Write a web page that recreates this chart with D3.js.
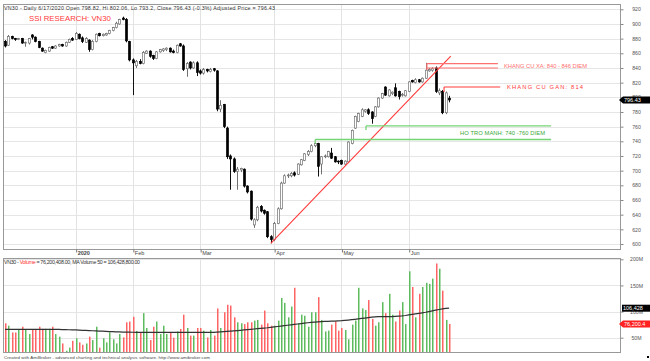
<!DOCTYPE html>
<html><head><meta charset="utf-8">
<script src="https://cdn.jsdelivr.net/npm/d3@7"></script>
<style>body{margin:0;background:#fff}svg{display:block}text{font-family:"Liberation Sans",Arial,sans-serif}</style>
</head><body><svg id="c" width="650" height="361"></svg>
<script>
const dates = [
"2019-12-03","2019-12-04","2019-12-05","2019-12-06","2019-12-09","2019-12-10","2019-12-11","2019-12-12","2019-12-13","2019-12-16","2019-12-17","2019-12-18","2019-12-19","2019-12-20","2019-12-23","2019-12-24","2019-12-25","2019-12-26","2019-12-27","2019-12-30","2019-12-31",
"2020-01-02","2020-01-03","2020-01-06","2020-01-07","2020-01-08","2020-01-09","2020-01-10","2020-01-13","2020-01-14","2020-01-15","2020-01-16","2020-01-17","2020-01-20","2020-01-21","2020-01-22","2020-01-30","2020-01-31",
"2020-02-03","2020-02-04","2020-02-05","2020-02-06","2020-02-07","2020-02-10","2020-02-11","2020-02-12","2020-02-13","2020-02-14","2020-02-17","2020-02-18","2020-02-19","2020-02-20","2020-02-21","2020-02-24","2020-02-25","2020-02-26","2020-02-27","2020-02-28",
"2020-03-02","2020-03-03","2020-03-04","2020-03-05","2020-03-06","2020-03-09","2020-03-10","2020-03-11","2020-03-12","2020-03-13","2020-03-16","2020-03-17","2020-03-18","2020-03-19","2020-03-20","2020-03-23","2020-03-24","2020-03-25","2020-03-26","2020-03-27","2020-03-30","2020-03-31",
"2020-04-01","2020-04-03","2020-04-06","2020-04-07","2020-04-08","2020-04-09","2020-04-10","2020-04-13","2020-04-14","2020-04-15","2020-04-16","2020-04-17","2020-04-20","2020-04-21","2020-04-22","2020-04-23","2020-04-24","2020-04-27","2020-04-28","2020-04-29",
"2020-05-04","2020-05-05","2020-05-06","2020-05-07","2020-05-08","2020-05-11","2020-05-12","2020-05-13","2020-05-14","2020-05-15","2020-05-18","2020-05-19","2020-05-20","2020-05-21","2020-05-22","2020-05-25","2020-05-26","2020-05-27","2020-05-28","2020-05-29",
"2020-06-01","2020-06-02","2020-06-03","2020-06-04","2020-06-05","2020-06-08","2020-06-09","2020-06-10","2020-06-11","2020-06-12","2020-06-15","2020-06-16","2020-06-17"];

const open = [876,871,883,880,879,880,874,874,885,882, 876,867,861,863,869,867,870,872,870,875,
880,879,886,881,875,878,865,876,887,884, 885,887,891,895,900,908,906,876,851,843,
849,846,860,863,857,853,862,864,865,867, 863,861,873,870,839,848,840,847,836,833,
838,835,839,836,784,790,758,720,716,699, 701,702,679,672,626,633,651,646,644,610,
606,628,648,683,693,693,697,695,708,714, 722,726,734,737,709,719,719,724,719,713,
714,709,712,737,758,767,774,781,783,780, 774,787,799,814,802,805,813,808,803,802,
808,823,820,824,821,826,836,837,840,806, 808,779,798.82];
const high = [878,885,884,881,881,881,876,881,886,883, 877,868,865,869,870,871,873,873,876,880,
882,889,887,883,882,879,878,887,888,887, 888,892,896,903,907,910,908,877,853,851,
852,863,864,864,858,863,866,867,868,868, 865,872,874,872,848,849,849,849,838,840,
839,840,840,837,796,791,760,722,718,705, 704,703,680,673,635,652,653,647,645,612,
630,650,685,695,696,698,699,710,716,724, 728,736,738,738,720,722,727,731,720,714,
715,714,740,756,775,779,785,784,785,781, 788,800,806,815,811,808,819,809,806,810,
822,824,826,825,827,847,840,841,842,812, 810,808,802.06];
const low = [868,870,879,877,878,873,869,872,879,875, 867,862,860,862,866,866,869,869,869,874,
877,878,879,874,874,862,864,875,883,883, 884,886,890,894,899,905,875,849,803,840,
845,845,859,854,851,852,861,862,863,861, 860,860,869,836,828,838,839,829,831,831,
834,834,835,781,780,758,716,674,697,674, 698,677,669,632,622,631,643,640,608,601,
604,627,647,682,690,691,692,694,707,713, 720,725,732,692,695,717,718,716,711,709,
708,708,711,736,757,766,773,779,776,764, 773,786,798,802,801,803,801,797,801,801,
807,820,819,820,820,825,835,835,806,803, 777,777,793.2];
const close = [870,883,880,879,880,874,875,880,882,876, 868,863,864,868,867,870,872,870,875,879,
878,887,880,876,880,865,876,886,884,886, 887,891,895,901,906,906,877,851,847,849,
846,861,863,856,853,862,865,866,867,862, 861,871,870,838,846,840,847,834,833,838,
836,838,837,784,789,760,719,716,699,702, 703,679,671,634,633,650,645,642,610,606,
628,648,683,693,694,696,694,709,715,723, 726,734,737,706,719,720,726,717,712,712,
709,713,739,755,774,778,783,783,778,771, 787,799,805,803,810,807,802,801,804,809,
821,821,824,821,826,837,838,839,808,809, 779,806,796.43];
// volume in millions
const volume = [77.6,73,60,60,66.7,71,65,57,66,66.7, 71,67,67,67,71,57,52,39,25,31,
44,49,41,36.5,39,52,45.5,71,31,49, 41,60,47,39,57,50.6,79.5,81,90,63,
60,97,68.6,45.5,71,81,57,73,57,60, 50,62,66.7,94,68.6,54,54,68.6,68.6,63.5,
50.6,64.7,54,106,68.6,98.7,113,111.5,89,79.5, 77.6,76,79.5,79.5,82.7,84,75,102,77.6,73,
73,82.7,126,116.7,89,109.6,145.5,77.6,94,92, 71,98.7,98.7,127.6,84,62,63.5,75,81,63.5,
68.6,64.7,47,75,82.7,145.5,106,103,122,86, 73,79.5,118,97,134,94,81,102,118,76,
177,147,89,134,147,155,153,163,192,182, 140,84,76.2004];
const ma50 = [66,66,66,66,66,66,66,66,66,66, 66,66,66,66,66,66,65.8,65.6,65.4,65.2,
65,64.8,64.5,64.2,63.9,63.6,63.3,63,62.7,62.4, 62.1,61.8,61.5,61.2,61,60.8,60.6,60.5,60.4,60.3,
60.2,60.2,60.1,60,60,60,60,60,60,60, 60,60,60,60,60,60,60,60,60,60,
60,60,60.2,60.6,61,61.5,62,62.5,63,63.6, 64.2,64.8,65.4,66,66.6,67.2,67.8,68.4,69,69.8,
70.6,71.4,72.2,73,73.8,74.6,75.4,76.2,77,77.8, 78.6,79.2,79.8,80.4,80.8,81.2,81.4,81.6,81.8,82.2,
82.6,83.2,83.8,84.5,85.2,86,86.8,87.6,88.4,89.2, 90,90.2,90.4,90.4,90.4,90.5,90.8,91.2,91.7,92.5,
93.5,94.5,95.5,96.6,97.6,98.7,100,101.3,102.7,104, 105.2,106,106.43];

const priceTicks = [600,620,640,660,680,700,720,740,760,780,800,820,840,860,880,900,920];
const volumeTicks = [50,100,150,200];
const volumeTickLabels = ["50M","100M","150M","200M"];
const monthLabels = ["2020","Feb","Mar","Apr","May","Jun"];

// annotations (index positions along the bar axis, price levels)
const zoneFar = {from:125.4, to:146.5, lo:840, hi:846, label:"KHANG CU XA: 840 - 846 DIEM"};
const lineNear = {from:130.5, to:147.2, level:814, label:"KHANG CU GAN: 814"};
const supportTop = {from:107.3, to:162.3, level:761};
const supportBottom = {from:92.2, to:162.3, level:742.5};
const supportLabel = "HO TRO MANH: 740 -760 DIEM";
const trendLine = [[79,601],[132.5,856]];

const titleText = "VN30 - Daily 6/17/2020 Open 798.82, Hi 802.06, Lo 793.2, Close 796.43 (-0.3%) Adjusted Price = 796.43";
const footerText = "Created with AmiBroker - advanced charting and technical analysis software. http://www.amibroker.com";

const svg = d3.select("#c");
const L=3, R=620, PT=4, PB=249, VT=258, VB=352;
const N = dates.length;
const x = d3.scaleLinear().domain([0, N-1]).range([5, 449.1]);
const y = d3.scaleLinear().domain([600, 920]).range([244, 9.3]);
const yv = d3.scaleLinear().domain([50, 200]).range([337.7, 259.3]);

// month starts
const monthIdx = [];
for (let i=1;i<N;i++) if (dates[i].slice(5,7)!==dates[i-1].slice(5,7)) monthIdx.push(i);

// grids
const grid = svg.append("g");
priceTicks.forEach(p=>grid.append("line").attr("x1",L).attr("x2",R).attr("y1",Math.round(y(p))+0.5).attr("y2",Math.round(y(p))+0.5).attr("stroke","#e6e6e6"));
volumeTicks.forEach(v=>grid.append("line").attr("x1",L).attr("x2",R).attr("y1",Math.round(yv(v))+0.5).attr("y2",Math.round(yv(v))+0.5).attr("stroke","#e6e6e6"));
monthIdx.forEach(i=>{
  const xx = Math.round(x(i))+0.5;
  grid.append("line").attr("x1",xx).attr("x2",xx).attr("y1",PT).attr("y2",PB).attr("stroke","#e2e2e2");
  grid.append("line").attr("x1",xx).attr("x2",xx).attr("y1",VT).attr("y2",VB).attr("stroke","#e2e2e2");
});

// frames
svg.append("rect").attr("x",L+0.5).attr("y",PT+0.5).attr("width",R-L).attr("height",PB-PT).attr("fill","none").attr("stroke","#999");
svg.append("rect").attr("x",L+0.5).attr("y",VT+0.5).attr("width",R-L).attr("height",VB-VT).attr("fill","none").attr("stroke","#999");

// date axis
const xa = d3.axisBottom(x).tickValues(monthIdx).tickSize(3).tickSizeOuter(0).tickFormat((d,i)=>monthLabels[i]);
const gxa = svg.append("g").attr("transform",`translate(0.5,${PB+0.5})`).call(xa);
gxa.select(".domain").remove();
gxa.selectAll("line").attr("stroke","#777");
gxa.selectAll("text").attr("text-anchor","start").attr("x",1).attr("y",1).attr("dy","0.75em")
  .attr("font-size",5.5).attr("fill","#444").attr("font-weight",(d,i)=>i===0?"bold":"normal");

// price axis labels
const ya = d3.axisRight(y).tickValues(priceTicks).tickSize(3).tickSizeOuter(0).tickFormat(d3.format("d"));
const gya = svg.append("g").attr("transform",`translate(${R+0.5},0)`).call(ya);
gya.select(".domain").remove();
gya.selectAll("line").attr("stroke","#888");
gya.selectAll("text").attr("x",16).attr("text-anchor","middle").attr("font-size",5.2).attr("fill","#555");

// volume axis labels
const va = d3.axisRight(yv).tickValues(volumeTicks).tickSize(3).tickSizeOuter(0).tickFormat((d,i)=>volumeTickLabels[i]);
const gva = svg.append("g").attr("transform",`translate(${R+0.5},0)`).call(va);
gva.select(".domain").remove();
gva.selectAll("line").attr("stroke","#888");
gva.selectAll("text").attr("x",16).attr("text-anchor","middle").attr("font-size",5.2).attr("fill","#555");

// candles
const bars = d3.range(N);
const upStroke = "#707070";
const cg = svg.append("g");
cg.selectAll("line.w").data(bars).join("line")
  .attr("x1",i=>Math.round(x(i))+0.5).attr("x2",i=>Math.round(x(i))+0.5)
  .attr("y1",i=>y(high[i])).attr("y2",i=>y(low[i]))
  .attr("stroke",i=>close[i]>=open[i]?upStroke:"#111").attr("stroke-width",1);
cg.selectAll("rect").data(bars).join("rect")
  .attr("x",i=>Math.round(x(i))-0.5).attr("width",2)
  .attr("y",i=>y(Math.max(open[i],close[i])))
  .attr("height",i=>Math.max(0.8, Math.abs(y(open[i])-y(close[i]))))
  .attr("fill",i=>close[i]>=open[i]?"#fff":"#000")
  .attr("stroke",i=>close[i]>=open[i]?upStroke:"#000").attr("stroke-width",0.7);

// annotations
const red="#ff3a3a", pink="#ff7070", green="#74d474";
const an = svg.append("g");
an.append("line").attr("x1",x(trendLine[0][0])).attr("y1",y(trendLine[0][1])).attr("x2",x(trendLine[1][0])).attr("y2",y(trendLine[1][1])).attr("stroke",red).attr("stroke-width",1.1);
[zoneFar.hi, zoneFar.lo].forEach(p=>an.append("line").attr("x1",x(zoneFar.from)).attr("x2",x(zoneFar.to)).attr("y1",y(p)).attr("y2",y(p)).attr("stroke",pink).attr("stroke-width",1.2));
an.append("line").attr("x1",x(zoneFar.from)).attr("x2",x(zoneFar.from)).attr("y1",y(zoneFar.hi)).attr("y2",y(zoneFar.lo)+2).attr("stroke",pink).attr("stroke-width",1.2);
an.append("text").attr("x",504).attr("y",y((zoneFar.hi+zoneFar.lo)/2)+1.8).attr("font-size",5.8).attr("fill",pink).attr("textLength",83).text(zoneFar.label);
an.append("line").attr("x1",x(lineNear.from)).attr("x2",x(lineNear.to)).attr("y1",y(lineNear.level)).attr("y2",y(lineNear.level)).attr("stroke",red).attr("stroke-width",1.1);
an.append("line").attr("x1",x(lineNear.from)).attr("x2",x(lineNear.from)).attr("y1",y(lineNear.level)).attr("y2",y(lineNear.level)+5).attr("stroke",red).attr("stroke-width",1.1);
an.append("text").attr("x",507).attr("y",y(lineNear.level)+2).attr("font-size",5.8).attr("fill",red).attr("textLength",76).text(lineNear.label);
[supportTop, supportBottom].forEach(s=>{
  an.append("line").attr("x1",x(s.from)).attr("x2",x(s.to)).attr("y1",y(s.level)).attr("y2",y(s.level)).attr("stroke",green).attr("stroke-width",1.3);
  an.append("line").attr("x1",x(s.from)).attr("x2",x(s.from)).attr("y1",y(s.level)).attr("y2",y(s.level)+4).attr("stroke",green).attr("stroke-width",1.3);
});
an.append("text").attr("x",460).attr("y",y((supportTop.level+supportBottom.level)/2)+2).attr("font-size",5.8).attr("fill","#3aa83a").attr("textLength",85).text(supportLabel);

// volume bars
const vg = svg.append("g");
vg.selectAll("rect").data(bars).join("rect")
  .attr("x",i=>Math.round(x(i))).attr("width",1.5)
  .attr("y",i=>yv(volume[i])).attr("height",i=>VB-yv(volume[i]))
  .attr("fill",i=>close[i]>open[i]?"#5dbb5d":"#ff6464");
vg.append("path").datum(bars).attr("d",d3.line().x(i=>x(i)).y(i=>yv(ma50[i])))
  .attr("fill","none").attr("stroke","#333").attr("stroke-width",1.2);

// markers on axes
function marker(yy, txt, fill, arrow){
  const g = svg.append("g");
  const h=7, x0=arrow?623:622;
  const pts = arrow ? [[619,yy],[x0,yy-h/2],[650,yy-h/2],[650,yy+h/2],[x0,yy+h/2]] : [[x0,yy-h/2],[650,yy-h/2],[650,yy+h/2],[x0,yy+h/2]];
  g.append("polygon").attr("points",pts.map(p=>p.join(",")).join(" ")).attr("fill",fill);
  g.append("text").attr("x",x0+1).attr("y",yy+2).attr("font-size",5.5).attr("fill","#fff").text(txt);
}
marker(y(close[N-1]), d3.format(".2f")(close[N-1]), "#000", true);
marker(yv(ma50[N-1]), "106,428", "#000", false);
marker(yv(volume[N-1]), "76,200.4", "#ff2020", true);

// texts
svg.append("text").attr("x",4).attr("y",9.5).attr("font-size",5.3).attr("fill","#333").attr("textLength",271).text(titleText);
svg.append("text").attr("x",29).attr("y",21).attr("font-size",7.8).attr("fill","#ff3a3a").text("SSI RESEARCH: VN30");
const vh = svg.append("text").attr("x",4).attr("y",263.5).attr("font-size",5.3).attr("fill","#333").attr("textLength",136);
vh.append("tspan").text("VN30 - ");
vh.append("tspan").attr("fill","#ff3030").text("Volume");
vh.append("tspan").text(" = 76,200,408.00, MA Volume 50 = 106,428,800.00");
svg.append("text").attr("x",4).attr("y",358.5).attr("font-size",4.4).attr("fill","#444").attr("textLength",206).text(footerText);
svg.append("rect").attr("x",647).attr("y",356).attr("width",2).attr("height",2).attr("fill","#000");
</script></body></html>
